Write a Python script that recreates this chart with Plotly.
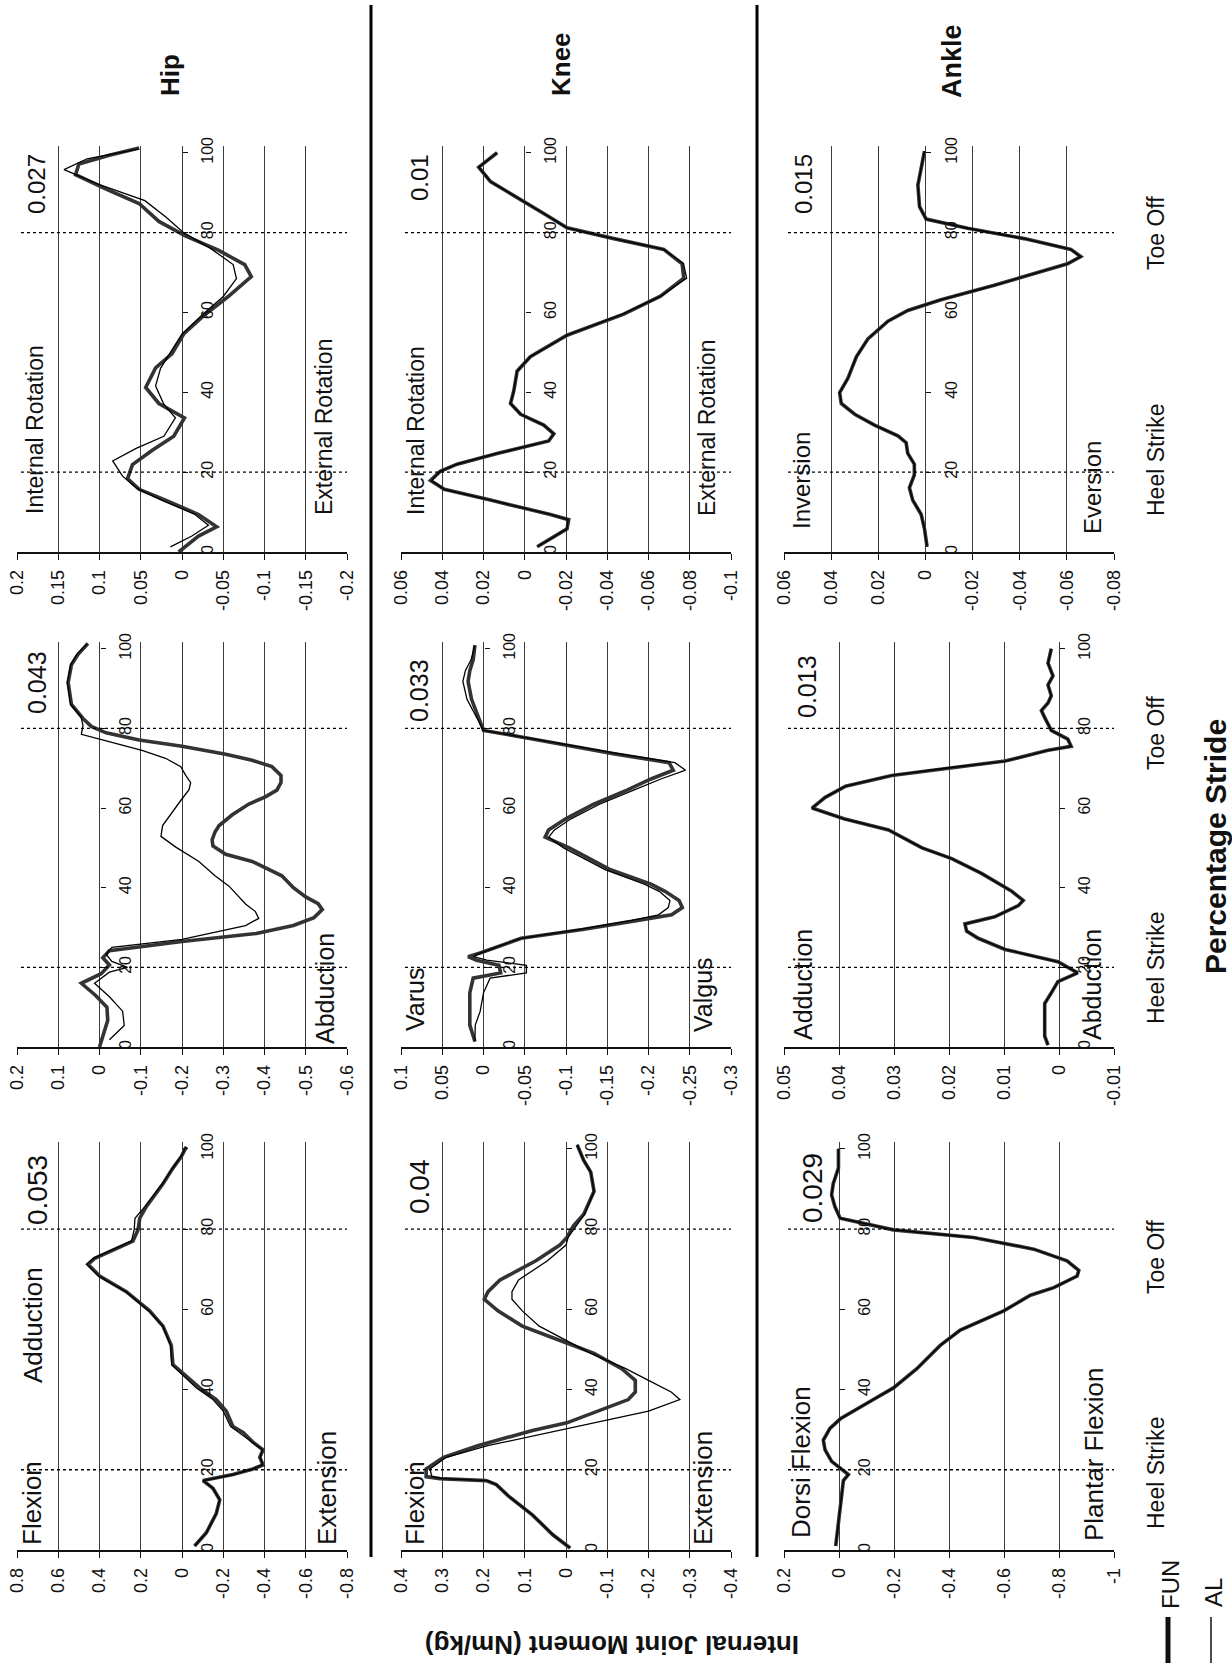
import plotly.graph_objects as go

# ---------------- data ----------------
# stride (%) positions and internal joint moments (Nm/kg); FUN = thick, AL = thin
STRIDE_TICKS = [0, 20, 40, 60, 80, 100]
EVENT_STRIDES = [20, 80]

# Hip – rotation
HIP_ROT_FUN_S = [0, 4, 6.3, 9.4, 13, 15.7, 18.4, 21.9, 25.5, 29, 33.6, 37.2, 41.2, 46.1, 49.7, 54.6, 59.5, 64, 69, 72, 75.6, 79.2, 82.8, 87.3, 90.9, 94.5, 97.2, 99.4, 101.2]
HIP_ROT_FUN = [0.004, -0.020, -0.042, -0.020, 0.020, 0.052, 0.066, 0.060, 0.036, 0.010, -0.003, 0.028, 0.044, 0.032, 0.012, -0.002, -0.028, -0.056, -0.084, -0.076, -0.044, -0.004, 0.028, 0.052, 0.092, 0.129, 0.125, 0.088, 0.052]
HIP_ROT_AL_S = [1.3, 4, 6.7, 9.5, 13, 16, 19, 22.8, 26, 29, 33.6, 37, 41.6, 46, 50, 54.6, 59.5, 64, 68.5, 72, 76, 80, 84, 88, 92, 95.8, 98.5, 101]
HIP_ROT_AL = [0.014, -0.012, -0.032, -0.015, 0.025, 0.055, 0.072, 0.084, 0.055, 0.022, 0.008, 0.022, 0.032, 0.026, 0.014, 0.0, -0.025, -0.05, -0.066, -0.062, -0.035, -0.002, 0.02, 0.045, 0.10, 0.143, 0.115, 0.052]
HIP_ROT_TICKS = [0.2, 0.15, 0.1, 0.05, 0, -0.05, -0.1, -0.15, -0.2]

# Hip – frontal
HIP_FRO_FUN_S = [0, 3, 6.7, 10, 13, 16, 18.4, 20.6, 22.4, 24.2, 26.5, 28.5, 30.5, 32.5, 34.5, 36, 37.7, 40, 43, 46.6, 48.4, 50.5, 52, 54, 55.6, 58.3, 61, 62.8, 64.5, 66.4, 68.2, 70.4, 72, 73.5, 75.5, 77.1, 78.9, 80.5, 82.5, 86, 91.5, 96, 98.6, 101.3]
HIP_FRO_FUN = [0.0, -0.008, -0.02, -0.018, 0.01, 0.044, -0.004, -0.024, -0.008, -0.024, -0.2, -0.38, -0.47, -0.52, -0.54, -0.53, -0.50, -0.47, -0.442, -0.37, -0.306, -0.275, -0.273, -0.28, -0.29, -0.322, -0.362, -0.402, -0.43, -0.44, -0.44, -0.418, -0.37, -0.306, -0.2, -0.096, -0.016, 0.02, 0.04, 0.068, 0.076, 0.068, 0.052, 0.028]
HIP_FRO_AL_S = [1.8, 5.4, 9, 12.6, 16, 18.8, 20, 21.5, 23.3, 25, 27, 30.5, 32.3, 34, 35.9, 38.6, 40.4, 43, 46.6, 50.2, 52.9, 55.6, 59.2, 61.9, 64.6, 66.4, 68.2, 70.4, 72.5, 74.4, 76.5, 78.5, 80.7, 83, 86, 91.5, 96, 98.6, 101.3]
HIP_FRO_AL = [-0.024, -0.06, -0.056, -0.024, 0.012, -0.024, -0.068, -0.03, -0.016, -0.03, -0.2, -0.354, -0.386, -0.378, -0.354, -0.33, -0.314, -0.28, -0.241, -0.185, -0.149, -0.153, -0.177, -0.197, -0.217, -0.221, -0.209, -0.197, -0.16, -0.105, -0.03, 0.044, 0.04, 0.045, 0.07, 0.078, 0.07, 0.055, 0.03]
HIP_FRO_TICKS = [0.2, 0.1, 0, -0.1, -0.2, -0.3, -0.4, -0.5, -0.6]

# Hip – sagittal
HIP_SAG_S = [1, 4.3, 9.1, 12.5, 15.4, 17.3, 18.8, 20.2, 21.2, 23.1, 25, 26.9, 29.3, 30.8, 34.6, 37.5, 40.4, 43.3, 46.2, 51, 55.8, 59.6, 64.4, 68.3, 71.2, 72.7, 75.1, 77, 79.8, 82.7, 85.6, 91.3, 95.2, 98.1, 100.5]
HIP_SAG_FUN = [-0.061, -0.118, -0.166, -0.183, -0.15, -0.102, -0.247, -0.344, -0.393, -0.377, -0.393, -0.344, -0.296, -0.247, -0.215, -0.166, -0.086, -0.021, 0.044, 0.052, 0.092, 0.157, 0.27, 0.399, 0.456, 0.423, 0.318, 0.238, 0.213, 0.205, 0.173, 0.092, 0.044, 0.003, -0.021]
HIP_SAG_AL = [-0.061, -0.118, -0.166, -0.183, -0.15, -0.102, -0.247, -0.344, -0.39, -0.38, -0.39, -0.34, -0.28, -0.235, -0.2, -0.15, -0.07, -0.01, 0.05, 0.055, 0.094, 0.16, 0.272, 0.405, 0.462, 0.43, 0.322, 0.245, 0.232, 0.228, 0.18, 0.095, 0.045, 0.005, -0.02]
HIP_SAG_TICKS = [0.8, 0.6, 0.4, 0.2, 0, -0.2, -0.4, -0.6, -0.8]

# Knee – rotation
KNEE_ROT_S = [1.3, 5.8, 8.1, 9.4, 13, 15.7, 17.9, 20.2, 22, 24.7, 27.8, 29.6, 31.8, 34.5, 37.2, 40.4, 45.3, 48.9, 54.3, 59.6, 64.1, 68.6, 72.2, 75.8, 78.5, 81.2, 84.8, 88.3, 92.8, 96.4, 100]
KNEE_ROT_FUN = [-0.006, -0.0205, -0.0213, -0.0124, 0.0166, 0.039, 0.0457, 0.041, 0.0328, 0.0134, -0.0116, -0.0141, -0.0092, 0.002, 0.0069, 0.0053, 0.0037, -0.0027, -0.0205, -0.048, -0.0658, -0.0771, -0.0763, -0.0674, -0.0432, -0.0205, -0.0092, 0.002, 0.0166, 0.0223, 0.0134]
KNEE_ROT_AL = [-0.006, -0.0205, -0.021, -0.0124, 0.0166, 0.039, 0.0452, 0.041, 0.0328, 0.0134, -0.0116, -0.0141, -0.0092, 0.002, 0.0069, 0.0053, 0.0037, -0.0027, -0.0205, -0.0475, -0.066, -0.0785, -0.077, -0.0674, -0.0432, -0.0205, -0.0092, 0.002, 0.0166, 0.0223, 0.0134]
KNEE_ROT_TICKS = [0.06, 0.04, 0.02, 0, -0.02, -0.04, -0.06, -0.08, -0.1]

# Knee – frontal
KNEE_FRO_S = [1.4, 5.5, 9, 13.6, 17.3, 18.6, 20.5, 21.8, 22.7, 23.6, 27.3, 29.5, 31.8, 33.2, 35, 36.8, 39.1, 40.9, 44.5, 47.3, 50, 52.7, 54.5, 57.3, 60.9, 64.5, 67.3, 69.5, 71.4, 73.6, 75.5, 77.3, 79.5, 82.7, 87.3, 91.8, 94.5, 97.3, 100.9]
KNEE_FRO_FUN = [0.0104, 0.0166, 0.0166, 0.0166, 0.0125, -0.0208, -0.0187, 0.0083, 0.0187, 0.0042, -0.0457, -0.12, -0.187, -0.228, -0.241, -0.237, -0.22, -0.203, -0.154, -0.129, -0.104, -0.0747, -0.0788, -0.0996, -0.133, -0.174, -0.203, -0.230, -0.225, -0.159, -0.110, -0.061, 0.0, 0.0062, 0.0145, 0.0187, 0.0166, 0.0125, 0.0104]
KNEE_FRO_AL = [0.0104, 0.010, 0.004, 0.0, -0.008, -0.052, -0.052, -0.004, 0.012, 0.004, -0.045, -0.115, -0.18, -0.212, -0.224, -0.226, -0.213, -0.195, -0.148, -0.123, -0.097, -0.079, -0.086, -0.106, -0.14, -0.182, -0.215, -0.245, -0.232, -0.165, -0.114, -0.062, 0.0, 0.008, 0.02, 0.025, 0.022, 0.015, 0.0104]
KNEE_FRO_TICKS = [0.1, 0.05, 0, -0.05, -0.1, -0.15, -0.2, -0.25, -0.3]

# Knee – sagittal
KNEE_SAG_S = [0.5, 3.8, 8.7, 13.5, 16.3, 17.3, 17.8, 18.3, 20.2, 23.1, 26, 29.8, 31.7, 34.6, 37.5, 39.4, 42.3, 45.2, 49, 52.9, 55.8, 59.6, 62.5, 64.4, 67.3, 72.1, 76, 77.9, 80.8, 83.7, 89.4, 94.2, 97.1, 101]
KNEE_SAG_FUN = [-0.01, 0.032, 0.081, 0.14, 0.169, 0.194, 0.306, 0.339, 0.339, 0.297, 0.214, 0.081, -0.002, -0.076, -0.151, -0.168, -0.168, -0.135, -0.068, 0.032, 0.106, 0.165, 0.198, 0.189, 0.16, 0.073, 0.015, -0.002, -0.018, -0.043, -0.068, -0.06, -0.043, -0.027]
KNEE_SAG_AL = [-0.01, 0.032, 0.081, 0.14, 0.169, 0.19, 0.3, 0.325, 0.33, 0.29, 0.19, 0.02, -0.07, -0.2, -0.276, -0.255, -0.2, -0.145, -0.06, 0.01, 0.065, 0.106, 0.131, 0.131, 0.115, 0.045, 0.0, -0.005, -0.025, -0.045, -0.068, -0.06, -0.043, -0.027]
KNEE_SAG_TICKS = [0.4, 0.3, 0.2, 0.1, 0, -0.1, -0.2, -0.3, -0.4]

# Ankle – inversion / eversion
ANK_INV_S = [1.3, 5.8, 9.4, 13, 16.1, 19.3, 22, 24.7, 27.4, 29.1, 31.8, 34.5, 37.2, 39.9, 43.5, 48.9, 53.4, 57.8, 60.5, 63.2, 66.8, 70.4, 72.2, 74, 75.8, 78.5, 81.1, 83.4, 86.5, 91.9, 96.4, 100.4]
ANK_INV_FUN = [-0.0007, 0.0004, 0.0018, 0.0054, 0.0068, 0.0047, 0.0047, 0.0075, 0.0082, 0.0117, 0.0216, 0.030, 0.0357, 0.0364, 0.0329, 0.0293, 0.0244, 0.0159, 0.0075, -0.0066, -0.0292, -0.0504, -0.0603, -0.0659, -0.0617, -0.0419, -0.0179, -0.0003, 0.0025, 0.0032, 0.0018, 0.0004]
ANK_INV_AL = [-0.0007, 0.0004, 0.0018, 0.0054, 0.0068, 0.0047, 0.0047, 0.0075, 0.0082, 0.0117, 0.0216, 0.030, 0.0357, 0.0364, 0.0329, 0.0293, 0.0244, 0.0159, 0.0075, -0.0066, -0.0292, -0.0504, -0.0603, -0.0659, -0.0617, -0.0419, -0.0179, -0.0003, 0.0025, 0.0032, 0.0018, 0.0004]
ANK_INV_TICKS = [0.06, 0.04, 0.02, 0, -0.02, -0.04, -0.06, -0.08]

# Ankle – frontal
ANK_FRO_S = [0.5, 2.7, 6.4, 10.9, 13.6, 16.4, 18.6, 20, 21.4, 24.5, 27.3, 29.1, 30.9, 32.7, 35.5, 36.8, 39.1, 43.6, 47.3, 50, 54.5, 57.3, 60, 62.7, 65.5, 68.2, 70, 71.8, 74.5, 75.5, 77.3, 79.5, 82.7, 84.5, 86.4, 88.2, 90.9, 93.2, 96.4, 100]
ANK_FRO_FUN = [0.002, 0.0026, 0.0026, 0.0026, 0.0014, 0.0002, -0.0034, -0.0016, 0.0002, 0.0098, 0.0147, 0.0168, 0.0171, 0.0117, 0.0074, 0.0065, 0.0086, 0.0141, 0.0195, 0.0249, 0.031, 0.0391, 0.0449, 0.0425, 0.0388, 0.0304, 0.0207, 0.0098, 0.002, -0.0022, -0.0016, 0.0014, 0.0026, 0.0032, 0.002, 0.0014, 0.002, 0.0011, 0.002, 0.0014]
ANK_FRO_AL = [0.002, 0.0026, 0.0026, 0.0026, 0.0014, 0.0002, -0.0034, -0.0016, 0.0002, 0.0098, 0.0147, 0.0168, 0.0171, 0.0117, 0.0074, 0.0065, 0.0086, 0.0141, 0.0195, 0.0249, 0.031, 0.0391, 0.0449, 0.0425, 0.0388, 0.0304, 0.0207, 0.0098, 0.002, -0.0022, -0.0016, 0.0014, 0.0026, 0.0032, 0.002, 0.0014, 0.002, 0.0011, 0.002, 0.0014]
ANK_FRO_TICKS = [0.05, 0.04, 0.03, 0.02, 0.01, 0, -0.01]

# Ankle – sagittal
ANK_SAG_S = [1, 6.7, 13.5, 17.3, 18.8, 20.2, 22.1, 25, 27.4, 30.3, 32.7, 37.5, 40.4, 45.2, 51, 54.8, 59.6, 63.5, 65.4, 68.3, 69.7, 72.1, 75, 77.9, 79.8, 82.7, 85.6, 88.5, 91.3, 95.2, 100]
ANK_SAG_FUN = [0.012, 0.002, -0.01, -0.016, -0.034, -0.01, 0.027, 0.051, 0.057, 0.033, -0.005, -0.125, -0.198, -0.283, -0.368, -0.441, -0.599, -0.696, -0.781, -0.866, -0.872, -0.829, -0.708, -0.489, -0.198, -0.004, 0.015, 0.027, 0.021, 0.002, 0.002]
ANK_SAG_AL = [0.012, 0.002, -0.01, -0.016, -0.034, -0.01, 0.027, 0.051, 0.057, 0.033, -0.005, -0.125, -0.198, -0.283, -0.368, -0.441, -0.599, -0.696, -0.781, -0.866, -0.872, -0.829, -0.708, -0.489, -0.198, -0.004, 0.015, 0.027, 0.021, 0.002, 0.002]
ANK_SAG_TICKS = [0.2, 0, -0.2, -0.4, -0.6, -0.8, -1]

# ---------------- layout (pixels of the 1232 x 1666 page) ----------------
W, H = 1232, 1666
FONT = "Liberation Sans, Arial, Helvetica, sans-serif"
COL_X = [(17, 347), (401, 731), (784, 1114)]          # hip, knee, ankle columns
ROW_Y = [(146, 552), (642, 1047), (1142, 1550)]       # rotation, frontal, sagittal rows
S_MAX = 101.7
FUN_STYLE = dict(color="#333333", width=3.6)
AL_STYLE = dict(color="#000000", width=1.3)

PANELS = [
    (0, 0, HIP_ROT_FUN_S, HIP_ROT_FUN, HIP_ROT_AL_S, HIP_ROT_AL, HIP_ROT_TICKS),
    (0, 1, KNEE_ROT_S, KNEE_ROT_FUN, KNEE_ROT_S, KNEE_ROT_AL, KNEE_ROT_TICKS),
    (0, 2, ANK_INV_S, ANK_INV_FUN, ANK_INV_S, ANK_INV_AL, ANK_INV_TICKS),
    (1, 0, HIP_FRO_FUN_S, HIP_FRO_FUN, HIP_FRO_AL_S, HIP_FRO_AL, HIP_FRO_TICKS),
    (1, 1, KNEE_FRO_S, KNEE_FRO_FUN, KNEE_FRO_S, KNEE_FRO_AL, KNEE_FRO_TICKS),
    (1, 2, ANK_FRO_S, ANK_FRO_FUN, ANK_FRO_S, ANK_FRO_AL, ANK_FRO_TICKS),
    (2, 0, HIP_SAG_S, HIP_SAG_FUN, HIP_SAG_S, HIP_SAG_AL, HIP_SAG_TICKS),
    (2, 1, KNEE_SAG_S, KNEE_SAG_FUN, KNEE_SAG_S, KNEE_SAG_AL, KNEE_SAG_TICKS),
    (2, 2, ANK_SAG_S, ANK_SAG_FUN, ANK_SAG_S, ANK_SAG_AL, ANK_SAG_TICKS),
]

# (text, centre x px, centre y px, font size, bold, angle)
TEXTS = [
    ("Internal Rotation", 35, 430, 23, False, -90),
    ("External Rotation", 324, 427, 23, False, -90),
    ("0.027", 37, 184, 24, False, -90),
    ("Internal Rotation", 416, 431, 23, False, -90),
    ("External Rotation", 707, 428, 23, False, -90),
    ("0.01", 420, 177, 24, False, -90),
    ("Inversion", 801, 481, 24, False, -90),
    ("Eversion", 1092, 488, 24, False, -90),
    ("0.015", 804, 184, 24, False, -90),
    ("Abduction", 325, 989, 25, False, -90),
    ("0.043", 37, 683, 25, False, -90),
    ("Varus", 415, 1000, 25, False, -90),
    ("Valgus", 703, 995, 25, False, -90),
    ("0.033", 419, 691, 25, False, -90),
    ("Adduction", 803, 985, 25, False, -90),
    ("Abduction", 1092, 985, 25, False, -90),
    ("0.013", 807, 687, 25, False, -90),
    ("Flexion", 32, 1503, 26, False, -90),
    ("Adduction", 33, 1325, 26, False, -90),
    ("0.053", 37, 1190, 28, False, -90),
    ("Extension", 327, 1488, 26, False, -90),
    ("Flexion", 415, 1503, 26, False, -90),
    ("Extension", 703, 1488, 26, False, -90),
    ("0.04", 419, 1187, 28, False, -90),
    ("Dorsi Flexion", 801, 1462, 26, False, -90),
    ("Plantar Flexion", 1094, 1455, 26, False, -90),
    ("0.029", 812, 1188, 28, False, -90),
    ("Toe Off", 1156, 233, 23, False, -90),
    ("Heel Strike", 1156, 460, 23, False, -90),
    ("Toe Off", 1156, 733, 23, False, -90),
    ("Heel Strike", 1156, 968, 23, False, -90),
    ("Toe Off", 1156, 1257, 23, False, -90),
    ("Heel Strike", 1156, 1473, 23, False, -90),
    ("Hip", 170, 75, 26, True, -90),
    ("Knee", 561, 64, 26, True, -90),
    ("Ankle", 952, 61, 27, True, -90),
    ("Percentage Stride", 1215, 847, 30, True, -90),
    ("Internal Joint Moment (Nm/kg)", 612, 1645, 26, True, 180),
    ("FUN", 1170, 1585, 24, False, -90),
    ("AL", 1213, 1593, 24, False, -90),
]

fig = go.Figure()
layout = dict(
    width=W, height=H, autosize=False,
    margin=dict(l=0, r=0, t=0, b=0, pad=0),
    paper_bgcolor="white", plot_bgcolor="white",
    showlegend=False,
    font=dict(family=FONT, color="#111111"),
)
shapes = []

for i, (row, col, s_fun, fun, s_al, al, ticks) in enumerate(PANELS, start=1):
    sx = "" if i == 1 else str(i)
    x0, x1 = COL_X[col]
    yt, yb = ROW_Y[row]
    vmax, vmin = ticks[0], ticks[-1]
    layout["xaxis" + sx] = dict(
        domain=[x0 / W, x1 / W], anchor="y" + sx,
        range=[vmax, vmin], tickmode="array", tickvals=ticks,
        ticktext=[f"{t:g}" for t in ticks], tickangle=-90,
        ticks="outside", ticklen=6, tickcolor="#111", tickwidth=1.2,
        showgrid=True, gridcolor="#3c3c3c", gridwidth=1,
        showline=True, linecolor="#111", linewidth=1.5,
        zeroline=False, tickfont=dict(size=18, color="#111"),
        automargin=False, fixedrange=True, ticklabelstandoff=3,
    )
    zero_px = x0 + vmax / (vmax - vmin) * (x1 - x0)
    layout["yaxis" + sx] = dict(
        domain=[1 - yb / H, 1 - yt / H], anchor="free", position=zero_px / W,
        side="right", range=[0, S_MAX], tickmode="array",
        tickvals=STRIDE_TICKS, ticktext=[str(t) for t in STRIDE_TICKS],
        tickangle=-90, ticks="outside", ticklen=5, tickcolor="#111",
        showgrid=False, zeroline=False, showline=False,
        tickfont=dict(size=16, color="#111"), automargin=False,
        fixedrange=True, ticklabelstandoff=6,
    )
    fig.add_trace(go.Scatter(x=fun, y=s_fun, mode="lines", line=FUN_STYLE,
                             xaxis="x" + sx, yaxis="y" + sx, name="FUN"))
    fig.add_trace(go.Scatter(x=al, y=s_al, mode="lines", line=AL_STYLE,
                             xaxis="x" + sx, yaxis="y" + sx, name="AL"))
    for ev in EVENT_STRIDES:
        shapes.append(dict(type="line", xref="x" + sx + " domain", yref="y" + sx,
                           x0=0.012, x1=1, y0=ev, y1=ev,
                           line=dict(color="#000", width=1.3, dash="dot")))

# thick separators between joints
for sep_x in (371, 757):
    shapes.append(dict(type="line", xref="paper", yref="paper",
                       x0=sep_x / W, x1=sep_x / W, y0=1 - 1557 / H, y1=1 - 5 / H,
                       line=dict(color="#000", width=3)))
# legend samples
shapes.append(dict(type="line", xref="paper", yref="paper",
                   x0=1168 / W, x1=1168 / W, y0=1 - 1663 / H, y1=1 - 1617 / H,
                   line=dict(color="#111", width=5)))
shapes.append(dict(type="line", xref="paper", yref="paper",
                   x0=1211 / W, x1=1211 / W, y0=1 - 1663 / H, y1=1 - 1617 / H,
                   line=dict(color="#111", width=1.5)))

annotations = []
for text, tx, ty, size, bold, ang in TEXTS:
    annotations.append(dict(
        text=f"<b>{text}</b>" if bold else text,
        x=tx / W, y=1 - ty / H, xref="paper", yref="paper",
        xanchor="center", yanchor="middle", showarrow=False,
        textangle=ang, font=dict(size=size, family=FONT, color="#111"),
    ))

layout["shapes"] = shapes
layout["annotations"] = annotations
fig.update_layout(**layout)

fig.write_html("out.html", config={"displayModeBar": False},
               post_script="document.body.style.margin='0px';")
